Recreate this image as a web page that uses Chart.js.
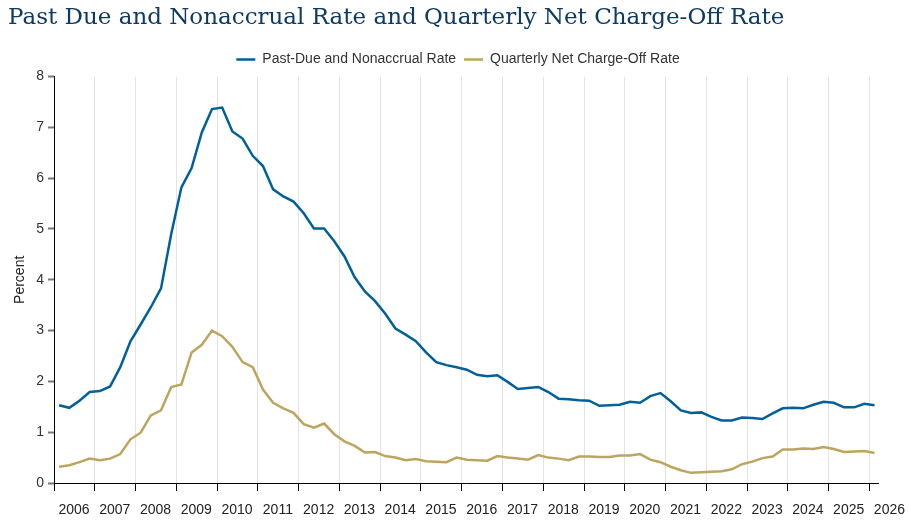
<!DOCTYPE html>
<html>
<head>
<meta charset="utf-8">
<script src="https://cdn.jsdelivr.net/npm/chart.js@4"></script>
<style>
  html, body { margin: 0; padding: 0; background: #fff; }
  #wrap { width: 909px; height: 521px; position: relative; }
</style>
</head>
<body>
<div id="wrap"><canvas id="chart"></canvas></div>
<script>
// quarterly series, 2006 Q1 .. 2026 Q1
const firstYear = 2006;
const yearTicks = [2006, 2007, 2008, 2009, 2010, 2011, 2012, 2013, 2014, 2015, 2016,
    2017, 2018, 2019, 2020, 2021, 2022, 2023, 2024, 2025, 2026];

const pastDueRate = [
    1.53, 1.48, 1.62, 1.79, 1.81, 1.90, 2.28, 2.79, 3.12, 3.46, 3.83, 4.90, 5.82, 6.20, 6.90, 7.36, 7.39, 6.92, 6.78, 6.44,
    6.24, 5.78, 5.64, 5.54, 5.31, 5.01, 5.01, 4.76, 4.46, 4.05, 3.77, 3.58, 3.33, 3.04, 2.92, 2.79, 2.57, 2.38, 2.32,
    2.28, 2.23, 2.13, 2.10, 2.12, 1.99, 1.85, 1.87, 1.89, 1.79, 1.66, 1.65, 1.63, 1.62, 1.52, 1.53, 1.54, 1.60, 1.58, 1.71,
    1.77, 1.61, 1.43, 1.38, 1.39, 1.30, 1.23, 1.23, 1.29, 1.28, 1.26, 1.37, 1.47, 1.48, 1.47, 1.54, 1.60, 1.58, 1.49, 1.49, 1.56, 1.53
];

const chargeOffRate = [
    0.32, 0.35, 0.41, 0.48, 0.45, 0.48, 0.57, 0.86, 0.99, 1.33, 1.43, 1.89, 1.94, 2.57, 2.72, 3.00, 2.89, 2.68, 2.38, 2.28,
    1.84, 1.58, 1.47, 1.38, 1.16, 1.09, 1.17, 0.96, 0.82, 0.73, 0.60, 0.61, 0.53, 0.50, 0.45, 0.47, 0.43, 0.42, 0.41,
    0.50, 0.46, 0.45, 0.44, 0.53, 0.50, 0.48, 0.46, 0.55, 0.50, 0.48, 0.45, 0.52, 0.52, 0.51, 0.51, 0.54, 0.54, 0.57, 0.46,
    0.41, 0.32, 0.25, 0.20, 0.21, 0.22, 0.23, 0.27, 0.37, 0.42, 0.49, 0.52, 0.66, 0.66, 0.68, 0.67, 0.71, 0.67, 0.61, 0.62, 0.63, 0.59
];

// each observation sits in the middle of its quarter
function quarterMid(i) {
    return firstYear + Math.floor(i / 4) + (i % 4) * 0.25 + 0.125;
}

function toPoints(values) {
    return values.map((v, i) => ({ x: quarterMid(i), y: v }));
}

const BLUE = '#00609a';
const GOLD = '#bba55f';
const font = 'Arial, "Liberation Sans", Helvetica, sans-serif';

Chart.defaults.font.family = font;
Chart.defaults.color = '#333';

// legend in the original sits a bit right of the canvas centre
const nudgeLegend = {
    id: 'nudgeLegend',
    afterLayout(chart) {
        chart.legend.left += 15;
        chart.legend.right += 15;
    },
};

new Chart(document.getElementById('chart'), {
    type: 'line',
    data: {
        datasets: [
            {
                label: 'Past-Due and Nonaccrual Rate',
                data: toPoints(pastDueRate),
                borderColor: BLUE,
                backgroundColor: BLUE,
                borderWidth: 2.5,
                pointRadius: 0,
                tension: 0,
            },
            {
                label: 'Quarterly Net Charge-Off Rate',
                data: toPoints(chargeOffRate),
                borderColor: GOLD,
                backgroundColor: GOLD,
                borderWidth: 2.5,
                pointRadius: 0,
                tension: 0,
            },
        ],
    },
    plugins: [nudgeLegend],
    options: {
        responsive: true,
        maintainAspectRatio: false,
        animation: false,
        layout: { padding: { left: 8, right: 31, top: 0, bottom: 0 } },
        plugins: {
            title: {
                display: true,
                text: 'Past Due and Nonaccrual Rate and Quarterly Net Charge-Off Rate',
                align: 'start',
                color: '#0f3b62',
                font: { family: '"DejaVu Serif", "Liberation Serif", serif', size: 23, weight: 'normal' },
                padding: { top: 4, bottom: 13 },
            },
            legend: {
                labels: {
                    usePointStyle: true,
                    pointStyle: 'line',
                    pointStyleWidth: 19,
                    font: { size: 14 },
                    color: '#333',
                    padding: 8,
                },
            },
            tooltip: { enabled: false },
        },
        scales: {
            x: {
                type: 'linear',
                min: firstYear,
                max: 2026.21,
                afterBuildTicks: (scale) => {
                    scale.ticks = yearTicks.map(v => ({ value: v }));
                },
                afterFit: (scale) => { scale.height = 38; },
                grid: {
                    color: '#e3e3e3',
                    tickColor: '#000',
                    tickLength: 8,
                },
                border: { color: '#000', width: 1 },
                ticks: {
                    callback: (v) => String(v),
                    labelOffset: 20,
                    padding: 11,
                    maxRotation: 0,
                    autoSkip: false,
                    font: { size: 14 },
                    color: '#222',
                },
            },
            y: {
                min: 0,
                max: 8,
                afterFit: (scale) => { scale.width = 46; },
                grid: {
                    drawOnChartArea: false,
                    tickColor: '#777',
                    tickLength: 6,
                    tickWidth: 2,
                },
                border: { color: '#000', width: 1 },
                ticks: {
                    stepSize: 1,
                    padding: 4,
                    font: { size: 14 },
                    color: '#333',
                },
                title: {
                    display: true,
                    text: 'Percent',
                    font: { size: 14 },
                    color: '#222',
                    padding: { top: 4, bottom: 0 },
                },
            },
        },
    },
});
</script>
</body>
</html>
